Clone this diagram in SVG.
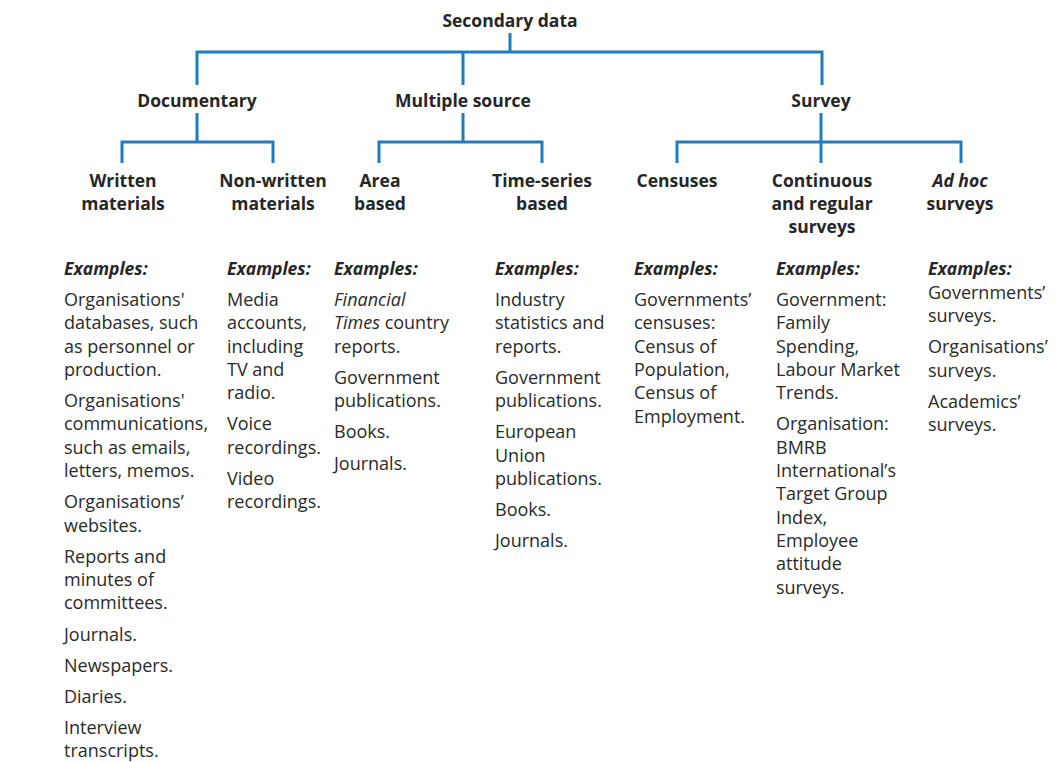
<svg xmlns="http://www.w3.org/2000/svg" width="1060" height="762" viewBox="0 0 1060 762">
<style>
.bg{fill:#ffffff}
.conn{fill:none;stroke:#1f7dbf;stroke-width:3;stroke-linecap:butt;stroke-linejoin:miter}
.h{font-family:"Open Sans","Noto Sans",sans-serif;font-weight:bold;font-size:17.5px;fill:#262626;text-anchor:middle}
.ex{font-family:"Open Sans","Noto Sans",sans-serif;font-weight:bold;font-style:italic;font-size:17.5px;fill:#262626}
.b{font-family:"Open Sans","Noto Sans",sans-serif;font-size:18px;fill:#2a2a2a}
.i{font-style:italic}
</style>
<rect class="bg" x="0" y="0" width="1060" height="762"/>
<g id="connectors">
<path class="conn" d="M510 33 V52 M197 85 V52 H822 V85 M463 52 V85"/>
<path class="conn" d="M197 113 V142 M122 163 V142 H273 V163"/>
<path class="conn" d="M463 113 V142 M379 163 V142 H542 V163"/>
<path class="conn" d="M821 113 V163 M677 163 V142 H961 V163"/>
</g>
<g id="secondary-data"><text class="h" x="510" y="26.5">Secondary data</text></g>
<g id="documentary"><text class="h" x="197" y="106.5">Documentary</text></g>
<g id="multiple-source"><text class="h" x="463" y="106.5">Multiple source</text></g>
<g id="survey"><text class="h" x="821" y="106.5">Survey</text></g>
<g id="written-materials"><text class="h" x="123" y="186.5">Written<tspan x="123" dy="23">materials</tspan></text></g>
<g id="non-written-materials"><text class="h" x="273" y="186.5">Non-written<tspan x="273" dy="23">materials</tspan></text></g>
<g id="area-based"><text class="h" x="380" y="186.5">Area<tspan x="380" dy="23">based</tspan></text></g>
<g id="time-series-based"><text class="h" x="542" y="186.5">Time-series<tspan x="542" dy="23">based</tspan></text></g>
<g id="censuses"><text class="h" x="677" y="186.5">Censuses</text></g>
<g id="continuous-regular"><text class="h" x="822" y="186.5">Continuous<tspan x="822" dy="23">and regular</tspan><tspan x="822" dy="23">surveys</tspan></text></g>
<g id="ad-hoc"><text class="h" x="960" y="186.5"><tspan class="i">Ad hoc</tspan><tspan x="960" dy="23">surveys</tspan></text></g>

<g id="examples-written">
<text class="ex" x="64" y="275">Examples:</text>
<text class="b" x="64" y="306">Organisations'<tspan x="64" dy="23.3">databases, such</tspan><tspan x="64" dy="23.3">as personnel or</tspan><tspan x="64" dy="23.3">production.</tspan><tspan x="64" dy="31.2">Organisations'</tspan><tspan x="64" dy="23.3">communications,</tspan><tspan x="64" dy="23.3">such as emails,</tspan><tspan x="64" dy="23.3">letters, memos.</tspan><tspan x="64" dy="31.2">Organisations’</tspan><tspan x="64" dy="23.3">websites.</tspan><tspan x="64" dy="31.2">Reports and</tspan><tspan x="64" dy="23.3">minutes of</tspan><tspan x="64" dy="23.3">committees.</tspan><tspan x="64" dy="31.2">Journals.</tspan><tspan x="64" dy="31.2">Newspapers.</tspan><tspan x="64" dy="31.2">Diaries.</tspan><tspan x="64" dy="31.2">Interview</tspan><tspan x="64" dy="23.3">transcripts.</tspan></text>
</g>
<g id="examples-non-written">
<text class="ex" x="227" y="275">Examples:</text>
<text class="b" x="227" y="306">Media<tspan x="227" dy="23.3">accounts,</tspan><tspan x="227" dy="23.3">including</tspan><tspan x="227" dy="23.3">TV and</tspan><tspan x="227" dy="23.3">radio.</tspan><tspan x="227" dy="31.2">Voice</tspan><tspan x="227" dy="23.3">recordings.</tspan><tspan x="227" dy="31.2">Video</tspan><tspan x="227" dy="23.3">recordings.</tspan></text>
</g>
<g id="examples-area">
<text class="ex" x="334" y="275">Examples:</text>
<text class="b" x="334" y="306"><tspan class="i">Financial</tspan><tspan x="334" dy="23.3" class="i">Times</tspan> country<tspan x="334" dy="23.3">reports.</tspan><tspan x="334" dy="31.2">Government</tspan><tspan x="334" dy="23.3">publications.</tspan><tspan x="334" dy="31.2">Books.</tspan><tspan x="334" dy="31.2">Journals.</tspan></text>
</g>
<g id="examples-time-series">
<text class="ex" x="495" y="275">Examples:</text>
<text class="b" x="495" y="306">Industry<tspan x="495" dy="23.3">statistics and</tspan><tspan x="495" dy="23.3">reports.</tspan><tspan x="495" dy="31.2">Government</tspan><tspan x="495" dy="23.3">publications.</tspan><tspan x="495" dy="31.2">European</tspan><tspan x="495" dy="23.3">Union</tspan><tspan x="495" dy="23.3">publications.</tspan><tspan x="495" dy="31.2">Books.</tspan><tspan x="495" dy="31.2">Journals.</tspan></text>
</g>
<g id="examples-censuses">
<text class="ex" x="634" y="275">Examples:</text>
<text class="b" x="634" y="306">Governments’<tspan x="634" dy="23.3">censuses:</tspan><tspan x="634" dy="23.3">Census of</tspan><tspan x="634" dy="23.3">Population,</tspan><tspan x="634" dy="23.3">Census of</tspan><tspan x="634" dy="23.3">Employment.</tspan></text>
</g>
<g id="examples-continuous">
<text class="ex" x="776" y="275">Examples:</text>
<text class="b" x="776" y="306">Government:<tspan x="776" dy="23.3">Family</tspan><tspan x="776" dy="23.3">Spending,</tspan><tspan x="776" dy="23.3">Labour Market</tspan><tspan x="776" dy="23.3">Trends.</tspan><tspan x="776" dy="31.2">Organisation:</tspan><tspan x="776" dy="23.3">BMRB</tspan><tspan x="776" dy="23.3">International’s</tspan><tspan x="776" dy="23.3">Target Group</tspan><tspan x="776" dy="23.3">Index,</tspan><tspan x="776" dy="23.3">Employee</tspan><tspan x="776" dy="23.3">attitude</tspan><tspan x="776" dy="23.3">surveys.</tspan></text>
</g>
<g id="examples-ad-hoc">
<text class="ex" x="928" y="275">Examples:</text>
<text class="b" x="928" y="298.5">Governments’<tspan x="928" dy="23.4">surveys.</tspan><tspan x="928" dy="31.3">Organisations’</tspan><tspan x="928" dy="23.4">surveys.</tspan><tspan x="928" dy="31.3">Academics’</tspan><tspan x="928" dy="23.4">surveys.</tspan></text>
</g>
</svg>
